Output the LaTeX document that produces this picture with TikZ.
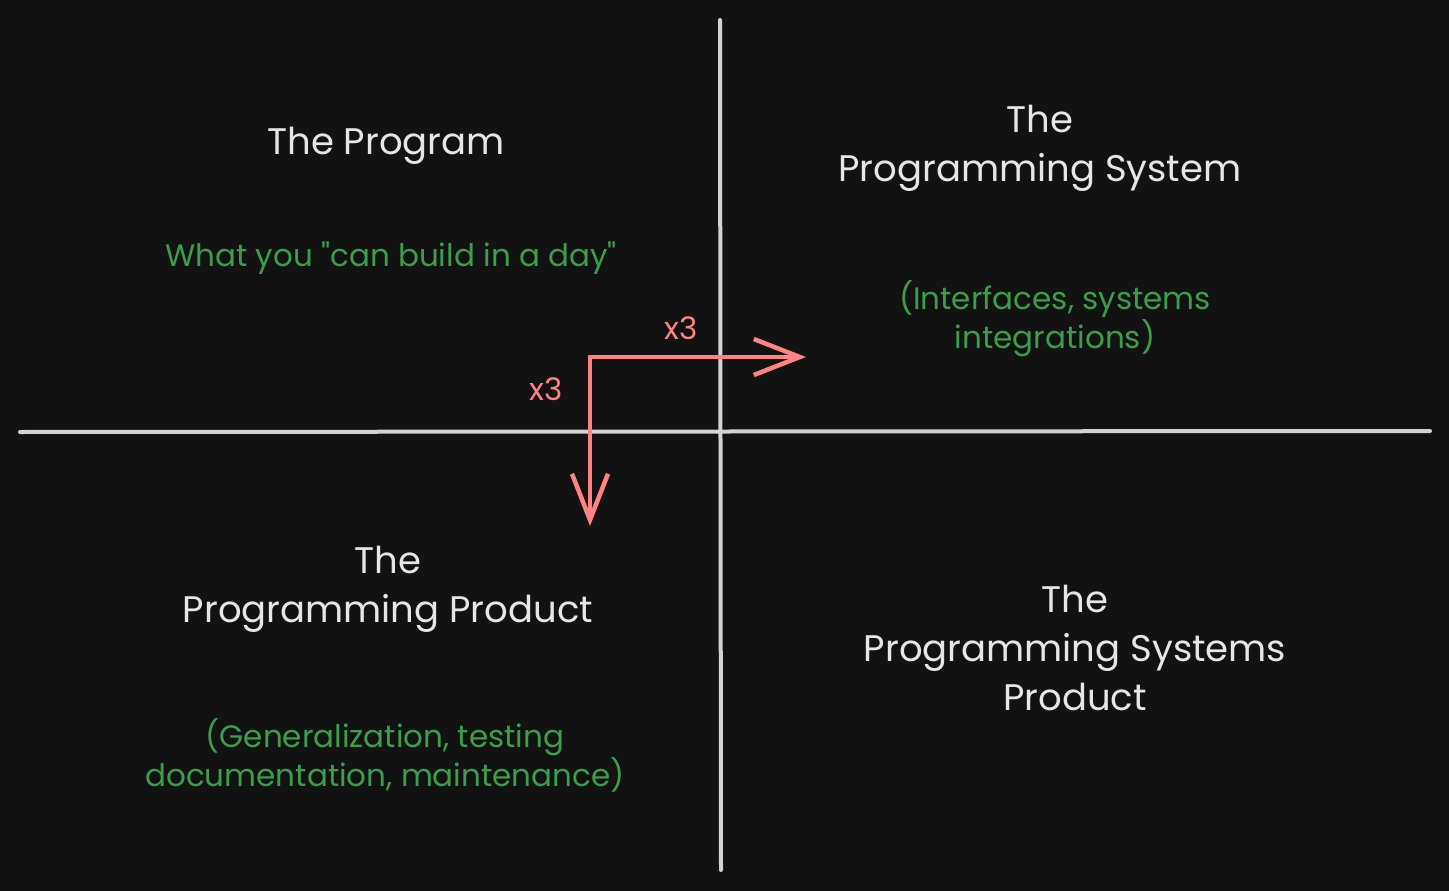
\documentclass[tikz,border=0pt]{standalone}
\usepackage{fontspec}
\setmainfont{Poppins}[Ligatures=TeXOff]
\usetikzlibrary{arrows.meta}
\definecolor{bg}{HTML}{121212}
\definecolor{axis}{HTML}{D3D3D3}
\definecolor{redc}{HTML}{FF8383}
\definecolor{greenc}{HTML}{3A9E4A}
\definecolor{whitec}{HTML}{E6E6E6}
\tikzset{
  axisline/.style={draw=axis, line width=4pt, line cap=round},
  redarrow/.style={draw=redc, line width=4.5pt, line cap=round, line join=round, -{Straight Barb[length=46pt,width=36pt,line width=4.5pt]}},
  title/.style={text=whitec, font=\fontsize{37}{49}\selectfont, align=center, inner sep=0pt},
  note/.style={text=greenc, font=\fontsize{31}{39}\selectfont, align=center, inner sep=0pt},
  times/.style={text=redc, font=\fontsize{31}{34}\selectfont, inner sep=0pt}
}
\begin{document}
\begin{tikzpicture}[x=1pt,y=-1pt]
\fill[bg] (0,0) rectangle (1449,891);
\useasboundingbox (0,0) rectangle (1449,891);
\coordinate (vtop) at (720,20);
\coordinate (vbot) at (721,870);
\coordinate (hl) at (20,432);
\coordinate (hr) at (1430,431);
\draw[axisline] (vtop) -- (vbot);
\draw[axisline] (hl) -- (hr);
\coordinate (corner) at (590,357);
\coordinate (rtip) at (806,357);
\coordinate (dtip) at (590,526);
\draw[redarrow] (corner) -- (rtip);
\draw[redarrow] (corner) -- (dtip);
\node[times] (x3a) at (681,328) {x3};
\node[times] (x3b) at (546,389) {x3};
\node[title] (prog) at (386,146) {The Program};
\node[note] (progn) at (391,258) {What you "can build in a day"};
\node[title] (sys) at (1040,148) {The\\Programming System};
\node[note] (sysn) at (1055,319) {(Interfaces, systems\\integrations)};
\node[title] (prod) at (388,589) {The\\Programming Product};
\node[note] (prodn) at (385,755) {(Generalization, testing\\documentation, maintenance)};
\node[title] (sp) at (1075,648) {The\\Programming Systems\\Product};
\end{tikzpicture}
\end{document}
